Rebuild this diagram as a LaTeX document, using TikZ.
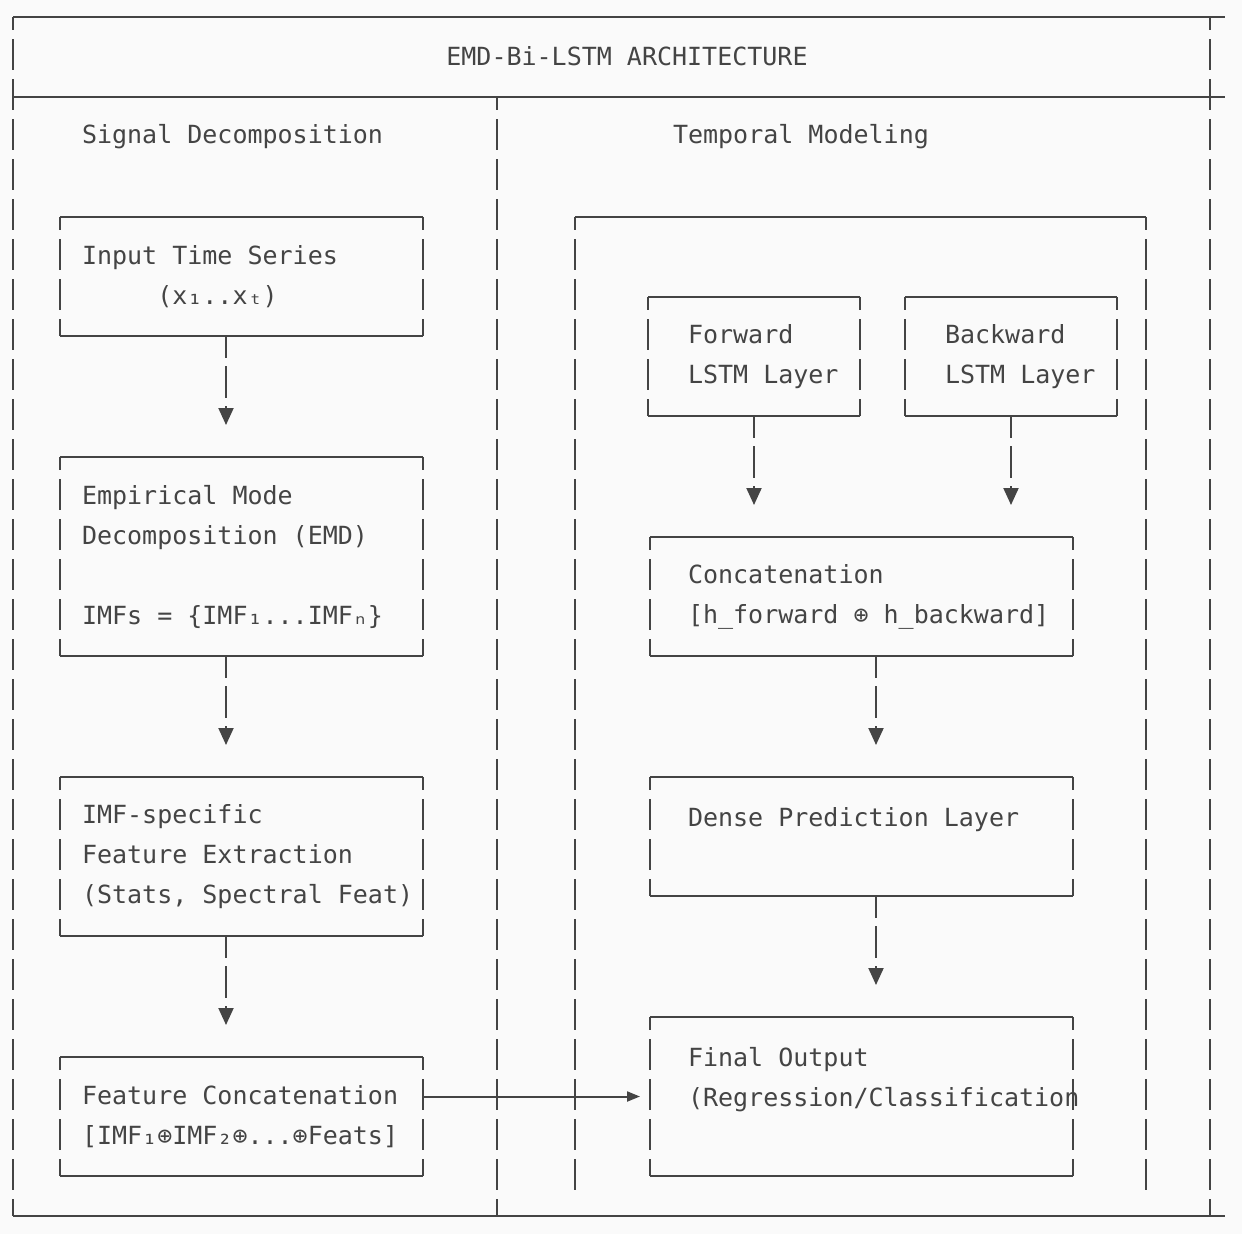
\documentclass[tikz,border=0pt]{standalone}
\usepackage{fontspec}
\newfontfamily\asciifont{DejaVu Sans Mono}
\usetikzlibrary{arrows.meta,calc}
\definecolor{ink}{HTML}{444444}
\definecolor{paper}{HTML}{FAFAFA}

\begin{document}
\begin{tikzpicture}[x=1pt,y=-1pt]

    \tikzset{rule/.style = {draw=ink, line width=2.4pt}}
    \tikzset{side/.style = {draw=ink, line width=2pt, dash pattern=on 31pt off 9pt, dash phase=18pt}}
    \tikzset{flow/.style = {draw=ink, line width=2pt, dash pattern=on 32pt off 8pt, dash phase=10pt, -{Triangle[length=17pt,width=15pt]}}}
    \tikzset{feed/.style = {draw=ink, line width=2pt, -{Triangle[length=13pt,width=10pt]}}}
    \tikzset{box/.style = {rectangle, inner sep=0pt, outer sep=0pt, text=ink,
        font={\asciifont\fontsize{25}{40}\selectfont}}}
    \tikzset{framed/.style = {box, execute at begin node={\raggedright\hyphenpenalty=10000\exhyphenpenalty=10000
        \spaceskip=15.05pt plus 0pt minus 0pt\xspaceskip=15.05pt plus 0pt minus 0pt\relax}}}
    \tikzset{lbox/.style = {framed, minimum width=363pt, text width=319pt, inner xsep=22pt}}
    \tikzset{rbox/.style = {framed, minimum width=423pt, text width=347pt, inner xsep=38pt}}
    \tikzset{sbox/.style = {framed, minimum width=212pt, text width=132pt, inner xsep=40pt}}
    \useasboundingbox[fill=paper] (0,0) rectangle (1242,1234);
    % frame
    \draw[rule] (13,17) -- (1225,17);
    \draw[rule] (13,97) -- (1225,97);
    \draw[rule] (13,1216) -- (1225,1216);
    \draw[side] (13,17) -- (13,1216);
    \draw[side] (1210,17) -- (1210,1216);
    \draw[side] (497,97) -- (497,1216);
    \draw[rule] (575,217) -- (1146,217);
    \draw[side] (575,217) -- (575,1191);
    \draw[side] (1146,217) -- (1146,1191);
    % headings
    \node[box] (ttl) at (627,56) {EMD-Bi-LSTM ARCHITECTURE};
    \node[box, anchor=west] (lhd) at (82,137) {Signal Decomposition};
    \node[box, anchor=west] (rhd) at (673,137) {Temporal Modeling};
    % left column
    \node[lbox, minimum height=119pt] (inp) at (241.5,276.5) {Input Time Series\\~~~~~(x₁..xₜ)};
    \node[lbox, minimum height=199pt] (emd) at (241.5,556.5) {Empirical Mode\\Decomposition (EMD)\\\mbox{}\\IMFs = \{IMF₁...IMFₙ\}};
    \node[lbox, minimum height=159pt] (imf) at (241.5,856.5) {IMF-specific\\Feature Extraction\\\mbox{(Stats, Spectral Feat)}};
    \node[lbox, minimum height=119pt] (fcat) at (241.5,1116.5) {\mbox{Feature Concatenation}\\{[}IMF₁⊕IMF₂⊕...⊕Feats]};
    % right column
    \node[sbox, minimum height=119pt] (fwd) at (754,356.5) {Forward\\\mbox{LSTM Layer}};
    \node[sbox, minimum height=119pt] (bwd) at (1011,356.5) {Backward\\\mbox{LSTM Layer}};
    \node[rbox, minimum height=119pt] (cat) at (861.5,596.5) {Concatenation\\\mbox{[h\_forward ⊕ h\_backward]}};
    \node[rbox, minimum height=119pt] (dense) at (861.5,836.5) {Dense Prediction Layer\\\mbox{}};
    \node[rbox, minimum height=159pt] (out) at (861.5,1096.5) {Final Output\\(Regression/Classification\\\mbox{}};
    \foreach \b in {inp,emd,imf,fcat,fwd,bwd,cat,dense,out} {
        \draw[rule] (\b.north west) -- (\b.north east);
        \draw[rule] (\b.south west) -- (\b.south east);
        \draw[side] (\b.north west) -- (\b.south west);
        \draw[side] (\b.north east) -- (\b.south east);
    }
    % arrows
    \draw[flow] ($(inp.south)+(-15.5,0)$) -- ($(emd.north)+(-15.5,-32)$);
    \draw[flow] ($(emd.south)+(-15.5,0)$) -- ($(imf.north)+(-15.5,-32)$);
    \draw[flow] ($(imf.south)+(-15.5,0)$) -- ($(fcat.north)+(-15.5,-32)$);
    \draw[flow] (fwd.south) -- ($(fwd.south |- cat.north)+(0,-32)$);
    \draw[flow] (bwd.south) -- ($(bwd.south |- cat.north)+(0,-32)$);
    \draw[flow] ($(cat.south)+(14.5,0)$) -- ($(dense.north)+(14.5,-32)$);
    \draw[flow] ($(dense.south)+(14.5,0)$) -- ($(out.north)+(14.5,-32)$);
    \draw[feed] ($(fcat.east)+(0,-20)$) -- ($(out.west)+(-10,0)$);
\end{tikzpicture}
\end{document}
